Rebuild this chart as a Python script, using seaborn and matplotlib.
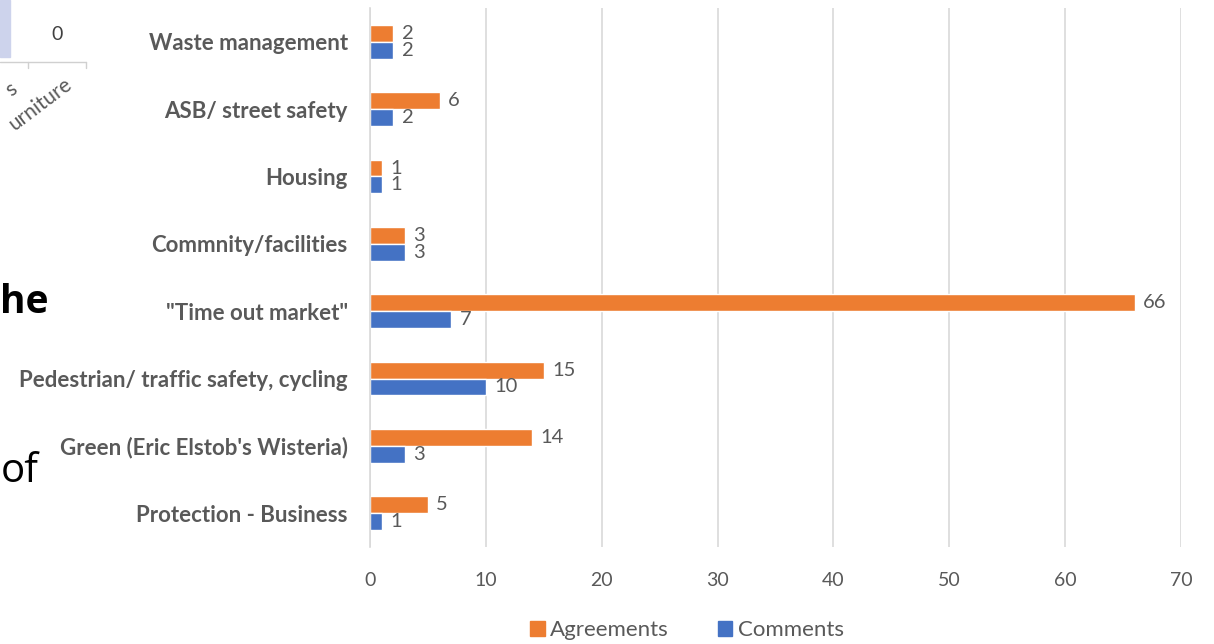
import pandas as pd
import matplotlib.pyplot as plt
import seaborn as sns
from matplotlib.patches import Rectangle
from matplotlib.lines import Line2D

categories = [
    "Waste management",
    "ASB/ street safety",
    "Housing",
    "Commnity/facilities",
    "\"Time out market\"",
    "Pedestrian/ traffic safety, cycling",
    "Green (Eric Elstob's Wisteria)",
    "Protection - Business",
]
agreements = [2, 6, 1, 3, 66, 15, 14, 5]
comments = [2, 2, 1, 3, 7, 10, 3, 1]
series = ["Agreements", "Comments"]
colors = ["#ED7D31", "#4472C4"]
x_ticks = [0, 10, 20, 30, 40, 50, 60, 70]

df = pd.DataFrame({
    "category": categories * 2,
    "value": agreements + comments,
    "series": [series[0]] * len(categories) + [series[1]] * len(categories),
})

sns.set_style("white")
plt.rcParams["font.family"] = ["Lato", "DejaVu Sans"]
text_col = "#595959"

fig = plt.figure(figsize=(12.14, 6.44), dpi=100)
ax = fig.add_axes([0.3048, 0.1506, 0.668, 0.837])

sns.barplot(data=df, x="value", y="category", hue="series", orient="h",
            order=categories, hue_order=series, palette=colors,
            width=0.5, saturation=1, ax=ax, legend=False)

for cont in ax.containers:
    ax.bar_label(cont, padding=6, fontsize=14.5, color=text_col)

ax.set_xlim(0, 70)
ax.set_xticks(x_ticks)
ax.set_xlabel("")
ax.set_ylabel("")
ax.grid(axis="x", color="#D9D9D9", linewidth=1.2)
ax.set_axisbelow(True)
for s in ["top", "right", "bottom"]:
    ax.spines[s].set_visible(False)
ax.spines["left"].set_color("#D9D9D9")
ax.spines["left"].set_linewidth(1.2)
ax.tick_params(axis="x", length=0, labelsize=14, labelcolor=text_col, pad=18)
ax.tick_params(axis="y", length=0, labelsize=16, labelcolor=text_col, pad=16)
for lab in ax.get_yticklabels():
    lab.set_fontweight("bold")

handles = [Rectangle((0, 0), 1, 1, color=c) for c in colors]
fig.legend(handles, series, loc="lower center", bbox_to_anchor=(0.566, -0.025),
           ncol=2, frameon=False, fontsize=16, handlelength=0.65, handleheight=0.65,
           handletextpad=0.25, columnspacing=2.2, labelcolor=text_col)

# fragments of the neighbouring slide content on the left
fig.patches.append(Rectangle((0, 1 - 57 / 644), 10 / 1214, 57 / 644,
                             transform=fig.transFigure, color="#CDD3EC"))
fig.text(57 / 1214, 1 - 35 / 644, "0", fontsize=14, color="#404040",
         ha="center", va="center")
fig.lines.append(Line2D([0, 86 / 1214], [1 - 62 / 644] * 2, transform=fig.transFigure,
                        color="#D0D0D0", linewidth=1))
for xp in [28, 86]:
    fig.lines.append(Line2D([xp / 1214] * 2, [1 - 62 / 644, 1 - 68 / 644],
                            transform=fig.transFigure, color="#D0D0D0", linewidth=1))
fig.text(64 / 1214, 1 - 74 / 644, "urniture", fontsize=15, color="#595959",
         rotation=37, ha="right", va="top", rotation_mode="anchor")
fig.text(0.001, 1 - 100 / 644, "s", fontsize=15, color="#595959",
         rotation=37, ha="left", va="bottom")
fig.text(0, 1 - 302 / 644, "he", fontsize=28, fontweight="bold", color="black",
         ha="left", va="center", family=["Open Sans", "DejaVu Sans"])
fig.text(0.001, 1 - 472 / 644, "of", fontsize=29, color="black",
         ha="left", va="center", family=["Open Sans", "DejaVu Sans"])

fig.savefig("out.png", dpi=100)
